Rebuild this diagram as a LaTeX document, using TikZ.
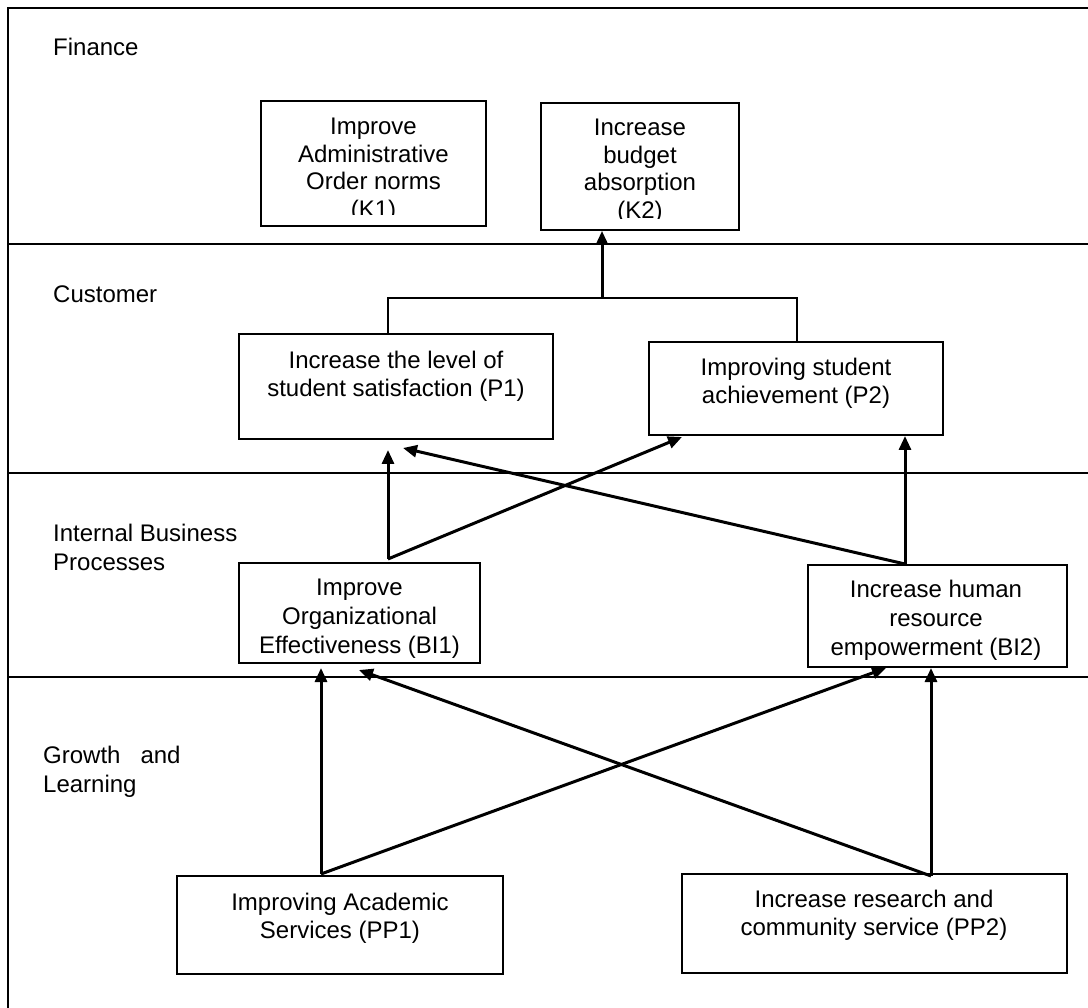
\documentclass[tikz,border=0pt]{standalone}
\usepackage{fontspec}
\setmainfont{Liberation Sans}
\usetikzlibrary{arrows.meta}
\begin{document}
\begin{tikzpicture}[x=1pt,y=-1pt,
  frame/.style={line width=2.6pt},
  box/.style={draw,line width=1.8pt,inner sep=0pt},
  txt/.style={inner sep=0pt,align=center,anchor=north,font=\fontsize{24}{27.5}\selectfont},
  txtb/.style={txt,font=\fontsize{24}{29}\selectfont},
  lbl/.style={inner sep=0pt,align=left,anchor=north west,font=\fontsize{24}{29}\selectfont},
  conn/.style={line width=2.4pt},
  arr/.style={line width=3pt,-{Triangle[length=14pt,width=12pt]}}]
\useasboundingbox (0,0) rectangle (1088,1008);
% frame and lanes
\draw[frame] (1088,8) -- (8,8) -- (8,1008);
\draw[frame] (8,244) -- (1088,244);
\draw[frame] (8,473) -- (1088,473);
\draw[frame] (8,677) -- (1088,677);
% lane labels
\node[lbl] (Lfin) at (53,38) {Finance};
\node[lbl] (Lcus) at (53,286) {Customer};
\node[lbl] (Libp) at (53,524) {Internal Business\\Processes};
\node[lbl] (Lgl) at (43,746) {Growth\ \ \ and\\Learning};
% boxes
\node[box,minimum width=225,minimum height=125] (K1) at (373.5,163.5) {};
\node[box,minimum width=198,minimum height=127] (K2) at (640,166.5) {};
\node[box,minimum width=314,minimum height=105] (P1) at (396,386.5) {};
\node[box,minimum width=294,minimum height=93] (P2) at (796,388.5) {};
\node[box,minimum width=241,minimum height=100] (BI1) at (359.5,613) {};
\node[box,minimum width=259,minimum height=102] (BI2) at (937.5,616) {};
\node[box,minimum width=326,minimum height=98] (PP1) at (340,925) {};
\node[box,minimum width=385,minimum height=99] (PP2) at (874.5,923.5) {};
% texts
\begin{scope}
\clip (K1.north west) rectangle ([yshift=12pt]K1.south east);
\node[txt] (K1t) at (373.5,118) {Improve\\Administrative\\Order norms\\(K1)};
\end{scope}
\begin{scope}
\clip (K2.north west) rectangle ([yshift=12pt]K2.south east);
\node[txt] (K2t) at (640,119) {Increase\\budget\\absorption\\(K2)};
\end{scope}
\node[txt] (P1t) at (396,351) {Increase the level of\\student satisfaction (P1)};
\node[txt] (P2t) at (796,358) {Improving student\\achievement (P2)};
\node[txtb] (BI1t) at (359.5,579) {Improve\\Organizational\\Effectiveness (BI1)};
\node[txtb] (BI2t) at (936,580) {Increase human\\resource\\empowerment (BI2)};
\node[txt] (PP1t) at (340,893) {Improving Academic\\Services (PP1)};
\node[txt] (PP2t) at (874,890) {Increase research and\\community service (PP2)};
% connector points
\coordinate (kl) at (388,298);
\coordinate (kr) at (797,298);
\coordinate (kj) at (602,298);
\coordinate (s1) at (388,559);
\coordinate (s2) at (905,564);
\coordinate (s3) at (321,874);
\coordinate (s4) at (931,876);
\coordinate (tP1a) at (388,450);
\coordinate (tP1b) at (403,448);
\coordinate (tP2a) at (682,437);
\coordinate (tP2b) at (905,436);
\coordinate (tB1a) at (321,668);
\coordinate (tB1b) at (359,670);
\coordinate (tB2a) at (886,668);
\coordinate (tB2b) at (931,668);
% connectors
\draw[conn] (P1.north -| kl) -- (kl) -- (kr) -- (P2.north -| kr);
\draw[arr] (kj) -- (kj |- K2.south);
\draw[arr] (s1) -- (tP1a);
\draw[arr] (s1) -- (tP2a);
\draw[arr] (s2) -- (tP1b);
\draw[arr] (s2) -- (tP2b);
\draw[arr] (s3) -- (tB1a);
\draw[arr] (s3) -- (tB2a);
\draw[arr] (s4) -- (tB1b);
\draw[arr] (s4) -- (tB2b);
\end{tikzpicture}
\end{document}
